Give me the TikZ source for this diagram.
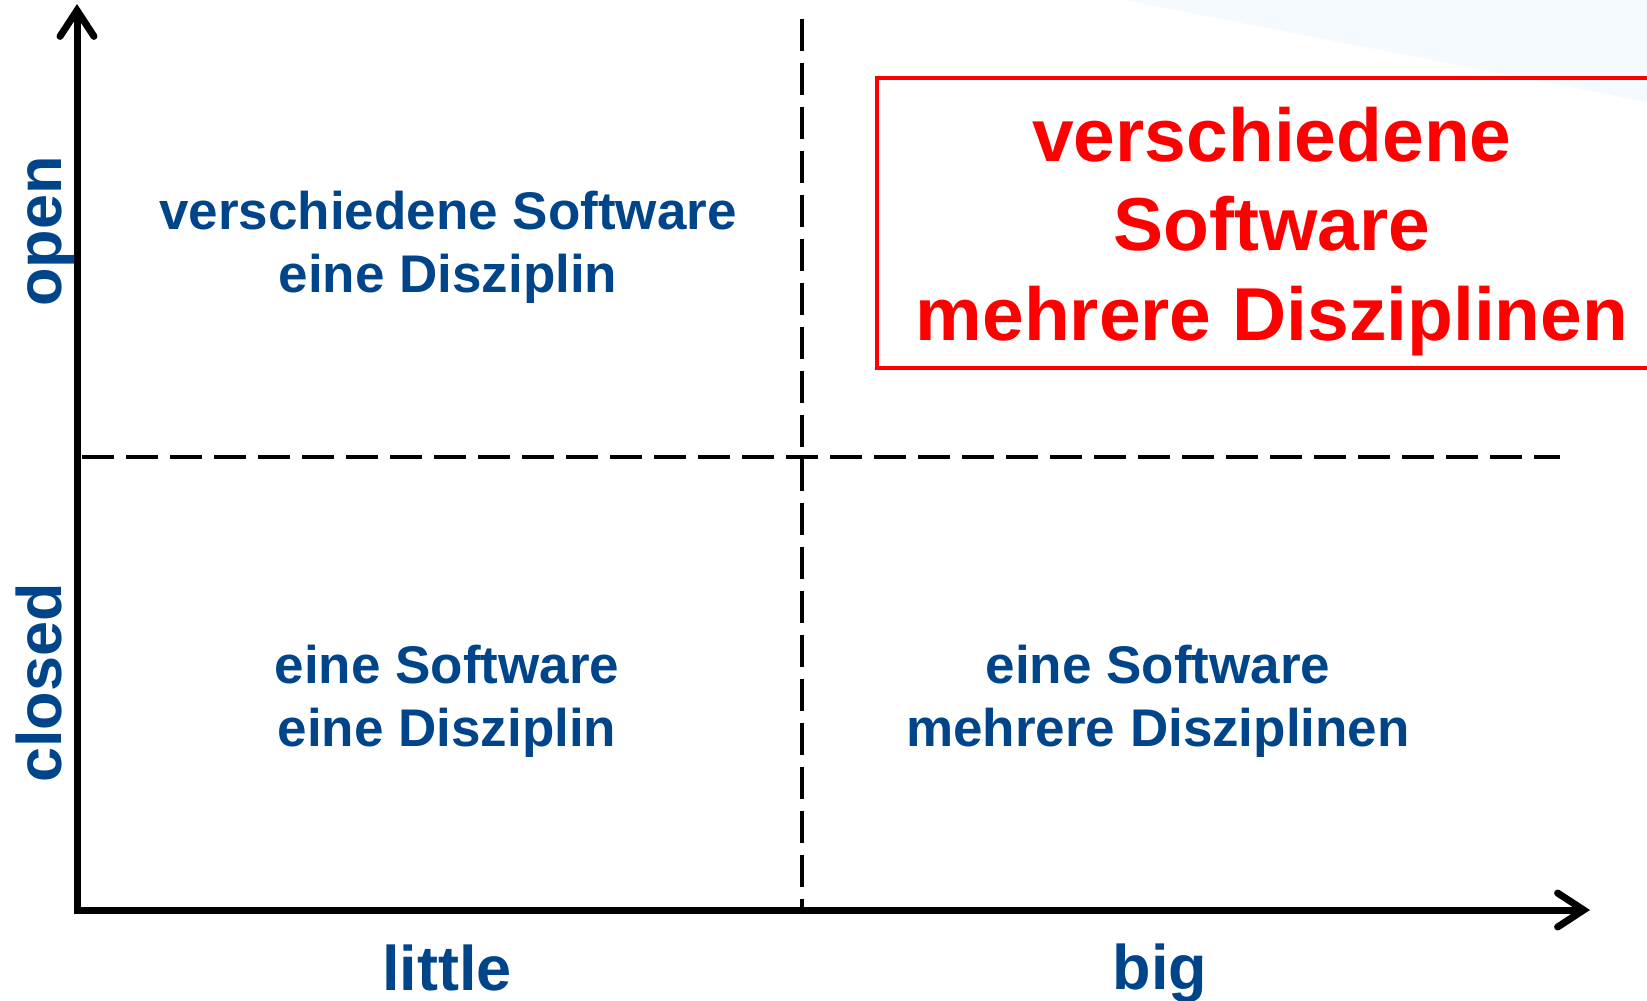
\documentclass[tikz,border=0pt]{standalone}
\usepackage{fontspec}
\setmainfont{Liberation Sans}
\usetikzlibrary{arrows.meta}
\definecolor{axisblue}{RGB}{0,69,138}
\definecolor{boxred}{RGB}{255,0,0}
\definecolor{faintbg}{RGB}{245,250,254}
\tikzset{
  axisline/.style={line width=7pt, -{Straight Barb[length=26pt,width=34pt,line cap=round,line join=miter]}},
  divider/.style={line width=3.5pt, dash pattern=on 32pt off 12pt},
  quadtext/.style={text=axisblue, font=\bfseries\fontsize{53}{63}\selectfont, align=center, anchor=base, inner sep=0pt},
  axislabel/.style={text=axisblue, font=\bfseries\fontsize{63}{70}\selectfont, anchor=base, inner sep=0pt},
  redtext/.style={text=boxred, font=\bfseries\fontsize{75}{89.5}\selectfont, align=center, anchor=base, inner sep=0pt},
}
\begin{document}
\begin{tikzpicture}[x=1pt,y=-1pt]
  \useasboundingbox (0,0) rectangle (1647,1001);
  \clip (0,0) rectangle (1647,1001);
  % faint background shape
  \fill[faintbg] (1124,0) -- (1647,0) -- (1647,102) -- cycle;
  % coordinates
  \coordinate (yfoot) at (77,913);
  \coordinate (ytip) at (77,4);
  \coordinate (xfoot) at (74,910);
  \coordinate (xtip) at (1590,910);
  \coordinate (hdl) at (82,457);
  \coordinate (hdr) at (1560,457);
  \coordinate (vdt) at (802,19);
  \coordinate (vdb) at (802,910);
  % dividers
  \draw[divider] (hdl) -- (hdr);
  \draw[divider] (vdt) -- (vdb);
  % axes
  \draw[axisline] (yfoot) -- (ytip);
  \draw[axisline] (xfoot) -- (xtip);
  % red box
  \draw[boxred, line width=3.5pt] (877,78) rectangle (1680,368);
  \node[redtext] (red) at (1272,340) {verschiedene\\Software\\mehrere Disziplinen};
  % quadrant texts (base anchor = last line's baseline)
  \node[quadtext] (tl) at (448,292) {verschiedene Software\\eine Disziplin};
  \node[quadtext] (bl) at (447,746) {eine Software\\eine Disziplin};
  \node[quadtext] (br) at (1158,746) {eine Software\\mehrere Disziplinen};
  % axis labels
  \node[axislabel] (little) at (447,990) {little};
  \node[axislabel] (big) at (1160,989) {big};
  \node[axislabel, rotate=90] (open) at (61,231.5) {open};
  \node[axislabel, rotate=90] (closed) at (61,683) {closed};
\end{tikzpicture}
\end{document}
